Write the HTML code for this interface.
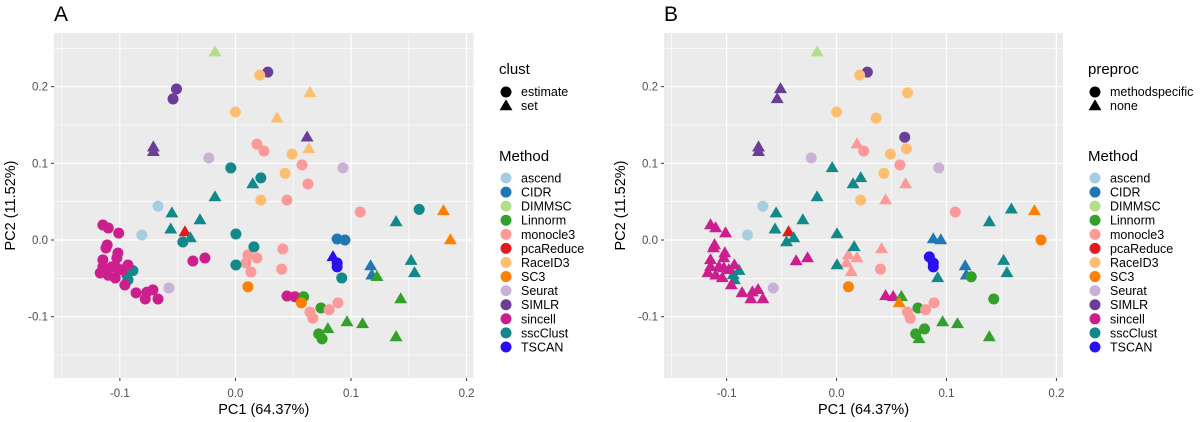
<!DOCTYPE html>
<html><head><meta charset="utf-8">
<style>
body{margin:0;background:#fff;}
svg{display:block;font-family:"Liberation Sans",sans-serif;}
</style></head>
<body>
<svg id="fig" width="1200" height="422" viewBox="0 0 1200 422" xmlns="http://www.w3.org/2000/svg"></svg>
<script>
const methods = ["ascend","CIDR","DIMMSC","Linnorm","monocle3","pcaReduce","RaceID3","SC3","Seurat","SIMLR","sincell","sscClust","TSCAN"];
const methodColors = ["#a6cee3","#1f78b4","#b2df8a","#33a02c","#fb9a99","#e31a1c","#fdbf6f","#ff7f00","#cab2d6","#6a3d9a","#cc1f8d","#11898a","#2a10ee"];
const xTicks = [-0.1, 0.0, 0.1, 0.2];
const xTickLabels = ["-0.1","0.0","0.1","0.2"];
const yTicks = [-0.1, 0.0, 0.1, 0.2];
const yTickLabels = ["-0.1","0.0","0.1","0.2"];
const xMinor = [-0.15,-0.05,0.05,0.15];
const yMinor = [-0.15,-0.05,0.05,0.15,0.25];

const ptMethod = ["DIMMSC","SIMLR","RaceID3","SIMLR","SIMLR","RaceID3","RaceID3","SIMLR","SIMLR","monocle3",
"monocle3","RaceID3","Seurat","sscClust","monocle3","RaceID3","sscClust","sscClust","RaceID3","monocle3",
"sscClust","ascend","sscClust","sscClust","sscClust","pcaReduce","sscClust","sscClust","ascend","sscClust",
"RaceID3","SIMLR","RaceID3","Seurat","monocle3","monocle3","sscClust","SC3","sscClust","CIDR",
"CIDR","SC3","monocle3","TSCAN","TSCAN","TSCAN","CIDR","CIDR","sscClust","sscClust",
"sscClust","Linnorm","monocle3","monocle3","monocle3","monocle3","monocle3","SC3","sincell","sincell",
"Linnorm","SC3","Linnorm","Linnorm","monocle3","monocle3","monocle3","monocle3","Linnorm","Linnorm",
"Linnorm","Linnorm","Linnorm","Linnorm","Seurat","sincell","sincell","sscClust","sscClust","sscClust",
"sscClust","sscClust",
"sincell","sincell","sincell","sincell","sincell","sincell","sincell","sincell","sincell","sincell",
"sincell","sincell","sincell","sincell","sincell","sincell","sincell","sincell","sincell","sincell","sincell","sincell"];
const pc1 = [-0.0177,0.028,0.021,-0.051,-0.054,0.0,0.036,-0.071,-0.071,0.0186,
0.0247,0.049,-0.023,-0.004,0.0576,0.043,0.015,0.022,0.022,0.0446,
-0.0177,-0.067,-0.055,-0.0307,-0.056,-0.0437,-0.039,-0.0455,-0.081,0.0004,
0.0645,0.062,0.0636,0.093,0.0628,0.108,0.159,0.18,0.139,0.088,
0.0948,0.186,0.041,0.0844,0.088,0.088,0.117,0.118,0.152,0.155,
0.092,0.1225,0.0108,0.0186,0.009,0.0134,0.040,0.0108,0.0446,0.0515,
0.059,0.057,0.143,0.074,0.081,0.0887,0.0645,0.067,0.0965,0.110,
0.080,0.072,0.075,0.139,-0.0576,-0.0368,-0.0264,0.0004,0.016,-0.094,
-0.0887,-0.093,
-0.1147,-0.110,-0.101,-0.111,-0.112,-0.1017,-0.1026,-0.1147,-0.1147,-0.117,
-0.107,-0.1026,-0.093,-0.104,-0.0957,-0.086,-0.0766,-0.0714,-0.078,-0.067,-0.098,-0.110];
const pc2 = [0.245,0.219,0.215,0.197,0.184,0.167,0.159,0.121,0.115,0.125,
0.116,0.112,0.107,0.094,0.098,0.087,0.073,0.081,0.052,0.052,
0.056,0.044,0.035,0.026,0.014,0.0104,0.0026,-0.0026,0.0065,0.0078,
0.192,0.134,0.119,0.094,0.073,0.0365,0.040,0.038,0.0235,0.0013,
0.0,0.0,-0.0117,-0.022,-0.030,-0.035,-0.034,-0.046,-0.027,-0.043,
-0.0495,-0.048,-0.0196,-0.0235,-0.030,-0.0417,-0.038,-0.061,-0.073,-0.074,
-0.074,-0.082,-0.077,-0.0887,-0.091,-0.082,-0.094,-0.102,-0.107,-0.1095,
-0.116,-0.1225,-0.129,-0.1265,-0.0626,-0.0274,-0.0235,-0.0326,-0.009,-0.0456,
-0.040,-0.052,
0.0196,0.0156,0.009,-0.0065,-0.0104,-0.017,-0.0235,-0.026,-0.035,-0.043,
-0.035,-0.0365,-0.0326,-0.0495,-0.0587,-0.069,-0.068,-0.065,-0.077,-0.077,-0.039,-0.046];
const clust = ["t","c","c","c","c","c","t","t","t","c",
"c","c","c","c","c","c","t","c","c","c",
"t","c","t","t","t","t","t","c","c","c",
"t","t","t","c","c","c","c","t","t","c",
"c","t","c","t","c","c","t","t","t","t",
"c","t","c","c","c","c","c","c","c","c",
"c","c","t","c","c","c","c","c","t","t",
"t","c","c","t","c","c","c","c","c","c",
"c","c",
"c","c","c","c","c","c","c","c","c","c","c","c","c","c","c","c","c","c","c","c","c","c"];
const preproc = ["t","c","c","t","t","c","c","t","t","t",
"c","c","c","t","c","c","t","t","c","t",
"t","c","t","t","t","t","t","t","c","t",
"c","c","c","c","t","c","t","t","t","t",
"t","c","t","c","c","c","t","t","t","t",
"t","c","t","t","t","t","c","c","t","t",
"t","t","c","c","c","c","c","c","t","t",
"c","c","t","t","c","t","t","t","t","t",
"t","t",
"t","t","t","t","t","t","t","t","t","t","t","t","t","t","t","t","t","t","t","t","t","t"];

const NS = "http://www.w3.org/2000/svg";
const svgRoot = document.getElementById("fig");
function mk(tag, attrs, parent){const e=document.createElementNS(NS,tag);for(const k in attrs)e.setAttribute(k,attrs[k]);(parent||svgRoot).appendChild(e);return e;}
const xDom=[-0.157,0.206], yDom=[-0.18,0.27];
const plotTop=33, plotBottom=378;
function yScale(v){return plotBottom-(v-yDom[0])/(yDom[1]-yDom[0])*(plotBottom-plotTop);}
function colorOf(m){return methodColors[methods.indexOf(m)];}
function drawShape(g,shape,cx,cy,col,name){
  let e;
  if(shape==="c"){e=mk("circle",{cx:cx,cy:cy,r:5.5,fill:col},g);}
  else{const s=6.8;e=mk("path",{d:`M${cx},${cy-s} L${cx+s*0.95},${cy+s*0.62} L${cx-s*0.95},${cy+s*0.62} Z`,fill:col},g);}
  
  
  return e;
}
function panel(id,left,right,letter,shapes,legTitle,legLabels,legX){
  const xScale=v=>left+(v-xDom[0])/(xDom[1]-xDom[0])*(right-left);
  const g=mk("g",{});
  
  
  const bg=mk("rect",{x:left,y:plotTop,width:right-left,height:plotBottom-plotTop,fill:"#ebebeb"},g);
  
  
  xMinor.forEach(v=>mk("line",{x1:xScale(v),x2:xScale(v),y1:plotTop,y2:plotBottom,stroke:"#fff","stroke-width":0.6},g));
  yMinor.forEach(v=>mk("line",{x1:left,x2:right,y1:yScale(v),y2:yScale(v),stroke:"#fff","stroke-width":0.6},g));
  xTicks.forEach((v,i)=>{
    mk("line",{x1:xScale(v),x2:xScale(v),y1:plotTop,y2:plotBottom,stroke:"#fff","stroke-width":1.2},g);
    mk("line",{x1:xScale(v),x2:xScale(v),y1:plotBottom,y2:plotBottom+3,stroke:"#333","stroke-width":1},g);
    const t=mk("text",{x:xScale(v),y:plotBottom+19,"text-anchor":"middle","font-size":11.5,fill:"#4d4d4d"},g);
    t.textContent=xTickLabels[i];
    
    
  });
  yTicks.forEach((v,i)=>{
    mk("line",{x1:left,x2:right,y1:yScale(v),y2:yScale(v),stroke:"#fff","stroke-width":1.2},g);
    mk("line",{x1:left-3,x2:left,y1:yScale(v),y2:yScale(v),stroke:"#333","stroke-width":1},g);
    const t=mk("text",{x:left-6,y:yScale(v)+4,"text-anchor":"end","font-size":11.5,fill:"#4d4d4d"},g);
    t.textContent=yTickLabels[i];
    
    
  });
  for(let i=0;i<ptMethod.length;i++){
    drawShape(g,shapes[i],xScale(pc1[i]),yScale(pc2[i]),colorOf(ptMethod[i]),'point-'+ptMethod[i].toLowerCase());
  }
  const xt=mk("text",{x:(left+right)/2,y:414,"text-anchor":"middle","font-size":14.5,fill:"#000"},g);
  xt.textContent="PC1 (64.37%)";
  
  
  const ycx=left-39, ycy=(plotTop+plotBottom)/2;
  const yt=mk("text",{x:ycx,y:ycy,"text-anchor":"middle","font-size":14.5,fill:"#000",transform:`rotate(-90 ${ycx} ${ycy})`},g);
  yt.textContent="PC2 (11.52%)";
  
  
  const lt=mk("text",{x:left,y:21,"font-size":21,fill:"#000"},g);
  lt.textContent=letter;
  
  
  const lg=mk("g",{},g);
  
  
  const t1=mk("text",{x:legX-7,y:74,"font-size":15,fill:"#000"},lg);
  t1.textContent=legTitle;
  
  
  ["c","t"].forEach((s,i)=>{
    drawShape(lg,s,legX,92+i*14,"#000",'legend-shape-key');
    const tt=mk("text",{x:legX+15,y:96+i*14,"font-size":12.5,fill:"#000"},lg);
    tt.textContent=legLabels[i];
    
    
  });
  const mg=mk("g",{},g);
  
  
  const t2=mk("text",{x:legX-7,y:161,"font-size":15,fill:"#000"},mg);
  t2.textContent="Method";
  
  
  methods.forEach((m,i)=>{
    const y=178+i*14.08;
    const c=mk("circle",{cx:legX,cy:y,r:5.5,fill:methodColors[i]},mg);
    
    
    const tt=mk("text",{x:legX+15,y:y+4.5,"font-size":12.5,fill:"#000"},mg);
    tt.textContent=m;
    
    
  });
}
panel("a",54,473.5,"A",clust,"clust",["estimate","set"],506);
panel("b",664,1063,"B",preproc,"preproc",["methodspecific","none"],1095);
</script>
</body></html>
